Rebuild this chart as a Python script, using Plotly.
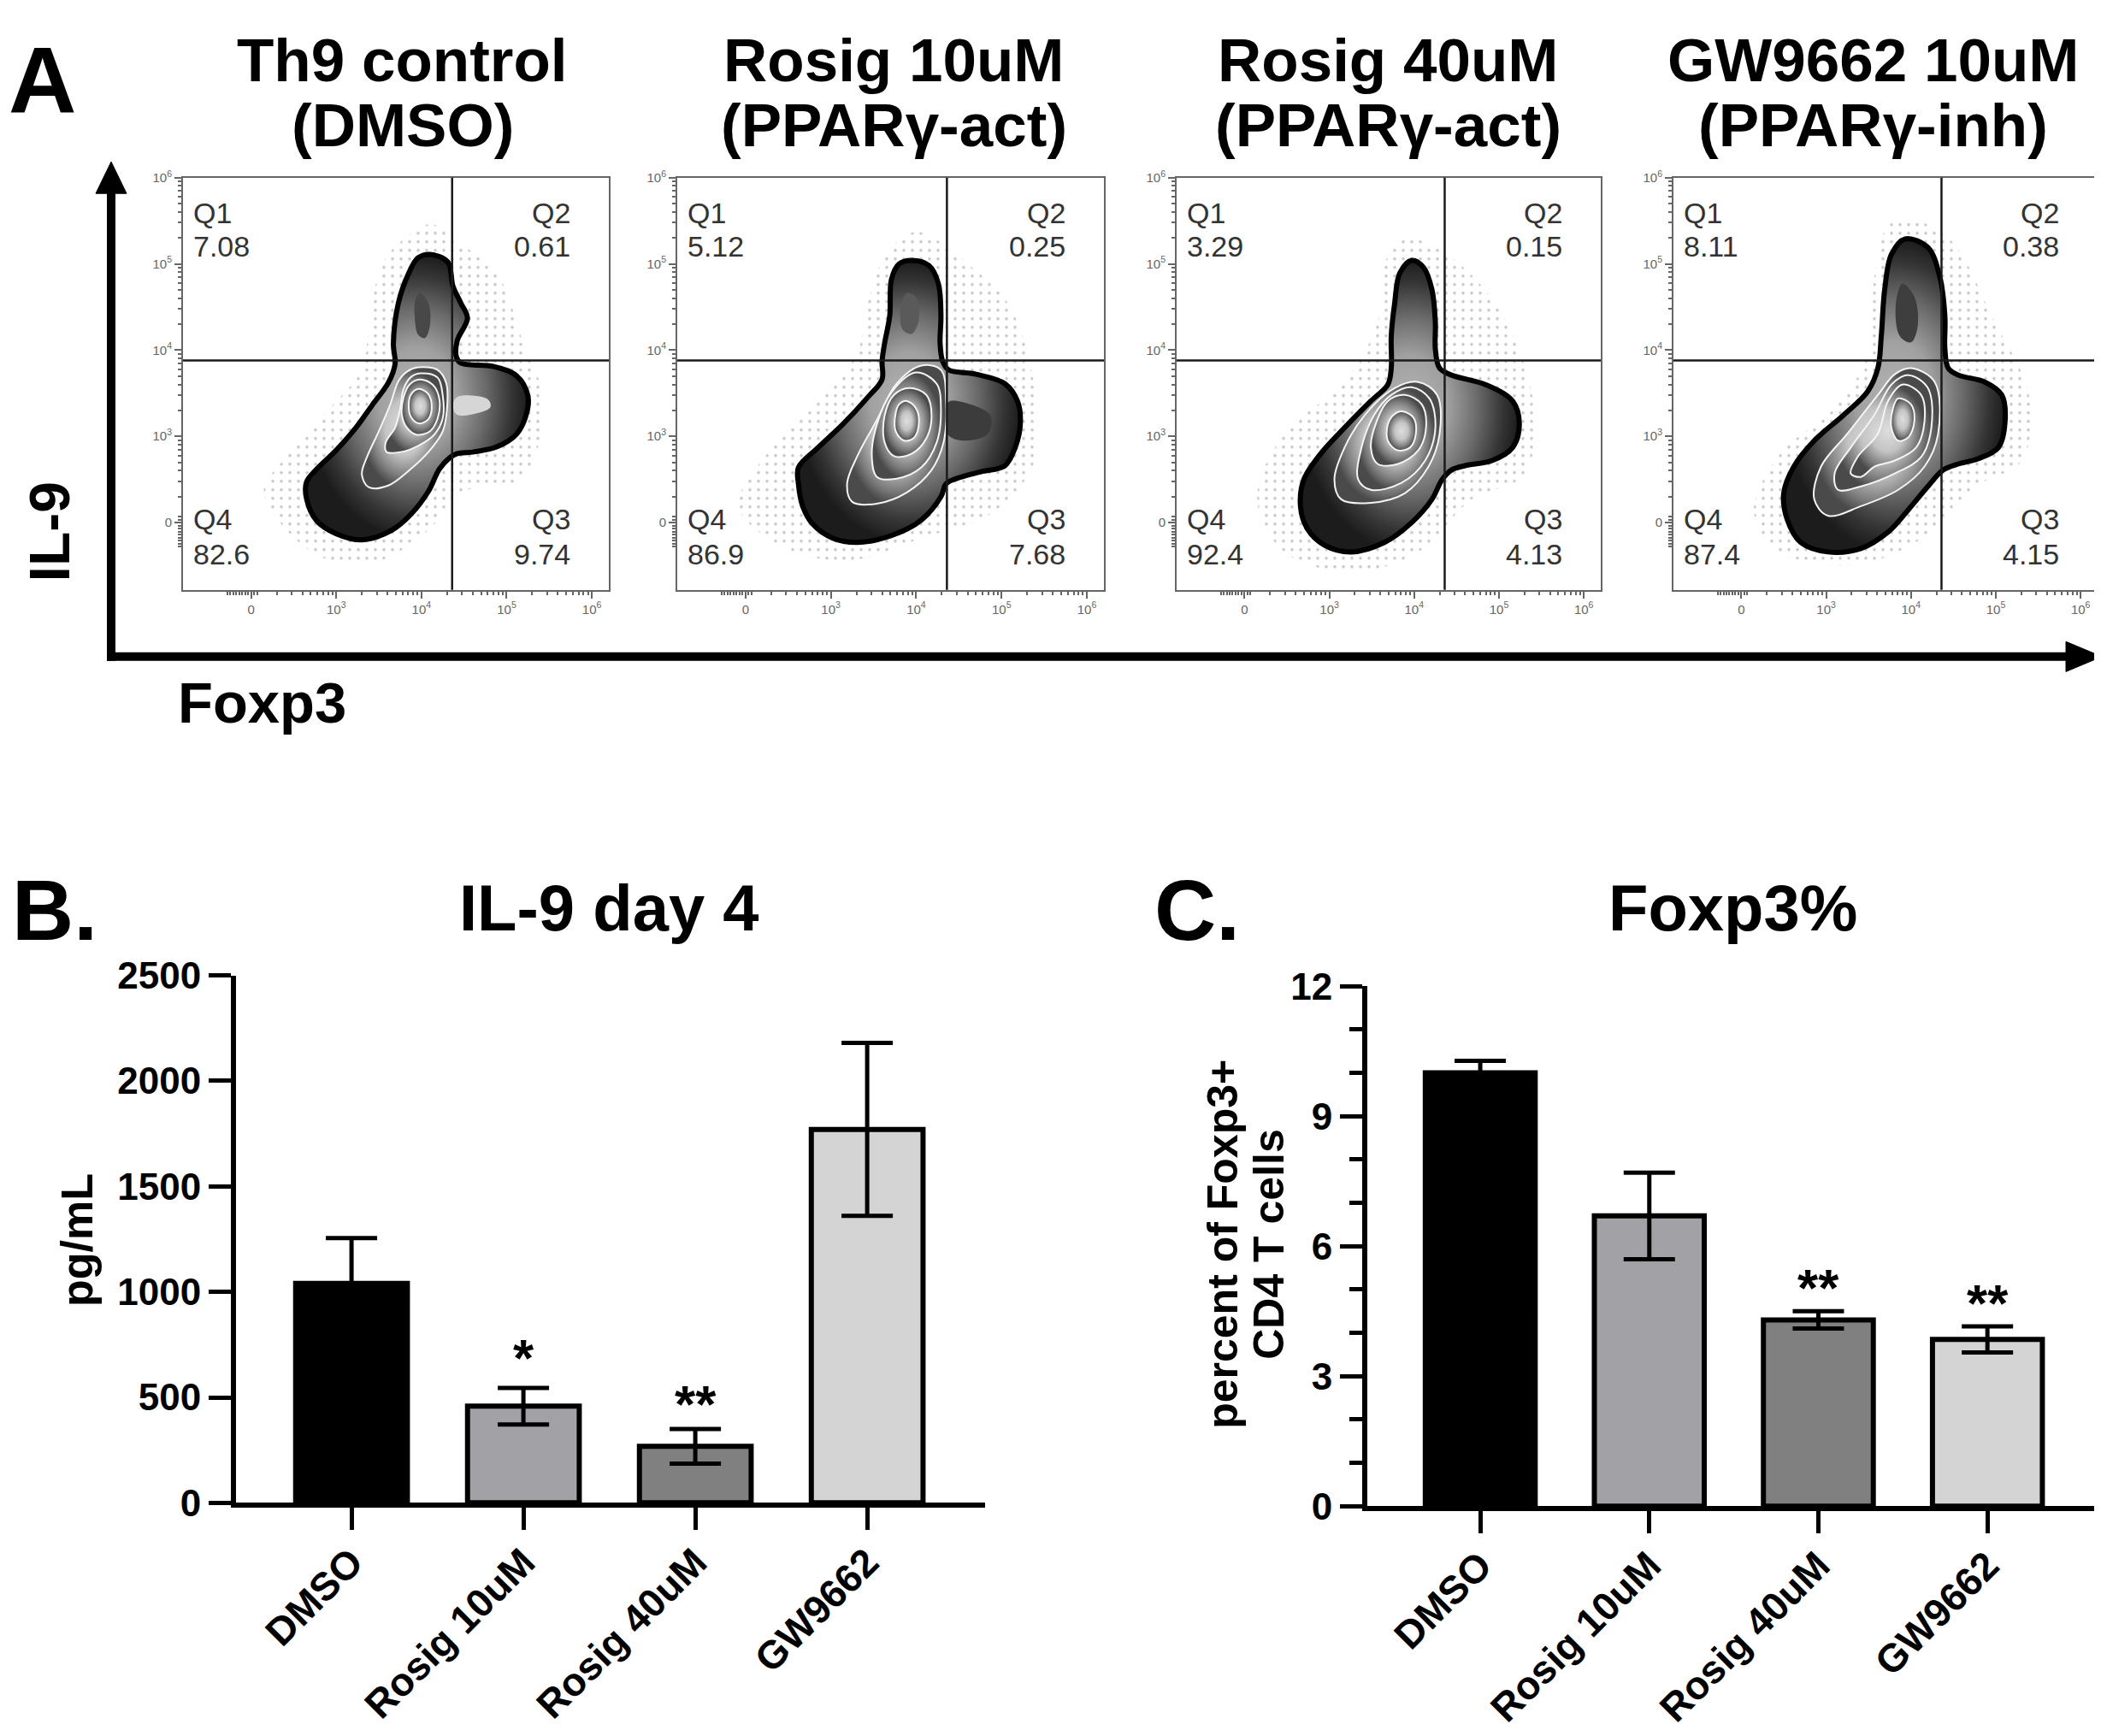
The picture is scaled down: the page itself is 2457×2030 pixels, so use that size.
import numpy as np
import plotly.graph_objects as go

W, H = 2457, 2030
FONT = "Liberation Sans, Arial, sans-serif"

# ---------------- panel A : flow plots (axis units: 2 = "0", 3 = 10^3 ... 6 = 10^6) ----------------
flow_titles = [("Th9 control", "(DMSO)"), ("Rosig 10uM", "(PPARγ-act)"),
               ("Rosig 40uM", "(PPARγ-act)"), ("GW9662 10uM", "(PPARγ-inh)")]
# Q1, Q2, Q3, Q4
quad_pcts = [["7.08", "0.61", "9.74", "82.6"],
             ["5.12", "0.25", "7.68", "86.9"],
             ["3.29", "0.15", "4.13", "92.4"],
             ["8.11", "0.38", "4.15", "87.4"]]
gate_x = 4.36
gate_y = 3.88
flow_tickpos = [2, 3, 4, 5, 6]
flow_ticktext = ["0", "10<sup>3</sup>", "10<sup>4</sup>", "10<sup>5</sup>", "10<sup>6</sup>"]

# DMSO
dmso_halo_x = [4.12, 4.42, 4.89, 5.20, 5.43, 5.39, 5.12, 4.46, 4.08, 3.38, 2.73, 2.15, 2.38, 2.92, 3.30, 3.38, 3.54, 3.85]
dmso_halo_y = [5.46, 5.26, 4.88, 4.07, 3.47, 2.95, 2.47, 2.35, 1.91, 1.52, 1.65, 2.35, 2.73, 3.32, 3.77, 4.21, 5.00, 5.33]
dmso_outer_x = [4.10, 4.31, 4.37, 4.46, 4.54, 4.42, 4.41, 4.46, 4.85, 5.12, 5.25, 5.23, 5.12, 4.89, 4.62, 4.42, 4.33, 4.21,
                4.08, 3.88, 3.65, 3.31, 3.00, 2.77, 2.65, 2.65, 2.77, 3.00, 3.23, 3.42, 3.61, 3.69, 3.67, 3.73, 3.85, 3.96]
dmso_outer_y = [5.11, 5.02, 4.74, 4.55, 4.37, 4.11, 3.92, 3.85, 3.81, 3.70, 3.47, 3.25, 3.03, 2.88, 2.82, 2.80, 2.75, 2.62,
                2.36, 2.10, 1.91, 1.80, 1.87, 2.02, 2.28, 2.47, 2.62, 2.84, 3.10, 3.36, 3.62, 3.84, 4.07, 4.55, 4.89, 5.07]
dmso_c4_x = [3.96, 4.19, 4.29, 4.30, 4.25, 4.10, 3.85, 3.61, 3.38, 3.30, 3.36, 3.50, 3.63, 3.73, 3.83]
dmso_c4_y = [3.80, 3.77, 3.62, 3.32, 3.06, 2.84, 2.60, 2.43, 2.41, 2.56, 2.76, 3.06, 3.36, 3.64, 3.75]
dmso_c3_x = [4.00, 4.19, 4.25, 4.25, 4.15, 3.96, 3.77, 3.59, 3.58, 3.69, 3.75, 3.79, 3.88]
dmso_c3_y = [3.73, 3.68, 3.47, 3.21, 3.02, 2.89, 2.82, 2.82, 2.93, 3.10, 3.32, 3.55, 3.69]
dmso_c2_x = [3.98, 4.13, 4.21, 4.19, 4.10, 3.94, 3.83, 3.77, 3.79, 3.86]
dmso_c2_y = [3.66, 3.60, 3.43, 3.21, 3.06, 3.02, 3.10, 3.25, 3.45, 3.60]
dmso_c1_x = [3.97, 4.08, 4.12, 4.08, 3.97, 3.88, 3.85, 3.88]
dmso_c1_y = [3.55, 3.49, 3.34, 3.20, 3.15, 3.22, 3.36, 3.49]
dmso_spot1_x = [3.98, 4.08, 4.10, 4.04, 3.96, 3.92, 3.93]
dmso_spot1_y = [4.66, 4.55, 4.29, 4.14, 4.18, 4.40, 4.59]
dmso_spot2_x = [4.41, 4.62, 4.79, 4.81, 4.66, 4.42, 4.37]
dmso_spot2_y = [3.45, 3.47, 3.42, 3.34, 3.27, 3.25, 3.34]

# Rosig 10uM
r10_halo_x = [4.00, 4.70, 5.10, 5.39, 5.39, 4.93, 4.06, 3.19, 2.44, 1.92, 2.27, 2.85, 3.31, 3.45, 3.66]
r10_halo_y = [5.37, 4.92, 4.50, 3.56, 2.72, 2.14, 1.82, 1.56, 1.72, 2.19, 2.82, 3.40, 3.98, 4.61, 5.13]
r10_outer_x = [3.95, 4.15, 4.26, 4.29, 4.28, 4.31, 4.38, 4.70, 5.04, 5.19, 5.22, 5.16, 5.04, 4.76, 4.47, 4.35, 4.29,
               4.06, 3.71, 3.31, 3.02, 2.79, 2.67, 2.62, 2.62, 2.85, 3.14, 3.43, 3.60, 3.60, 3.63, 3.69, 3.71, 3.80]
r10_outer_y = [5.04, 4.98, 4.77, 4.40, 4.08, 3.87, 3.77, 3.72, 3.61, 3.40, 3.14, 2.87, 2.66, 2.59, 2.51, 2.45, 2.30,
               2.03, 1.85, 1.77, 1.82, 1.98, 2.19, 2.45, 2.64, 2.87, 3.14, 3.45, 3.66, 3.87, 4.08, 4.40, 4.82, 5.00]
r10_c4_x = [4.06, 4.29, 4.35, 4.32, 4.18, 3.89, 3.54, 3.25, 3.19, 3.31, 3.54, 3.77]
r10_c4_y = [3.82, 3.77, 3.40, 2.93, 2.61, 2.35, 2.22, 2.24, 2.45, 2.77, 3.19, 3.61]
r10_c3_x = [4.00, 4.24, 4.29, 4.24, 4.06, 3.77, 3.54, 3.48, 3.54, 3.71]
r10_c3_y = [3.74, 3.61, 3.30, 2.93, 2.64, 2.51, 2.53, 2.77, 3.14, 3.51]
r10_c2_x = [3.92, 4.12, 4.18, 4.12, 3.95, 3.74, 3.63, 3.63, 3.74]
r10_c2_y = [3.56, 3.48, 3.24, 2.98, 2.80, 2.77, 2.93, 3.24, 3.48]
r10_c1_x = [3.89, 4.00, 4.03, 3.97, 3.86, 3.76, 3.76, 3.80]
r10_c1_y = [3.41, 3.32, 3.14, 2.98, 2.95, 3.06, 3.27, 3.37]
r10_spot1_x = [3.89, 4.00, 4.03, 3.95, 3.84, 3.82]
r10_spot1_y = [4.66, 4.61, 4.35, 4.19, 4.24, 4.50]
r10_spot2_x = [4.38, 4.64, 4.87, 4.84, 4.58, 4.38, 4.35]
r10_spot2_y = [3.40, 3.37, 3.24, 3.03, 2.95, 3.01, 3.22]

# Rosig 40uM
r40_halo_x = [3.89, 4.44, 5.00, 5.39, 5.31, 4.68, 4.05, 3.26, 2.47, 2.15, 2.47, 3.18, 3.57, 3.65]
r40_halo_y = [5.30, 5.07, 4.47, 3.48, 2.57, 2.27, 1.66, 1.43, 1.66, 2.27, 3.03, 3.63, 4.32, 5.00]
r40_outer_x = [3.97, 4.11, 4.21, 4.25, 4.25, 4.30, 4.44, 4.84, 5.16, 5.24, 5.16, 4.92, 4.60, 4.44, 4.33, 4.21,
               3.97, 3.65, 3.26, 2.94, 2.74, 2.66, 2.70, 2.90, 3.18, 3.49, 3.69, 3.73, 3.73, 3.77, 3.83]
r40_outer_y = [5.04, 4.96, 4.70, 4.32, 4.01, 3.79, 3.71, 3.60, 3.41, 3.14, 2.87, 2.72, 2.66, 2.61, 2.50, 2.27,
               2.00, 1.77, 1.66, 1.74, 1.93, 2.19, 2.50, 2.80, 3.10, 3.41, 3.60, 3.79, 4.16, 4.54, 4.89]
r40_c4_x = [4.05, 4.27, 4.30, 4.17, 3.89, 3.49, 3.14, 3.06, 3.18, 3.42, 3.77]
r40_c4_y = [3.63, 3.48, 3.03, 2.65, 2.34, 2.23, 2.27, 2.50, 2.87, 3.25, 3.56]
r40_c3_x = [3.97, 4.18, 4.25, 4.13, 3.85, 3.49, 3.34, 3.38, 3.53, 3.73]
r40_c3_y = [3.57, 3.44, 3.10, 2.72, 2.46, 2.38, 2.50, 2.87, 3.25, 3.48]
r40_c2_x = [3.89, 4.09, 4.14, 4.05, 3.81, 3.57, 3.49, 3.56, 3.69]
r40_c2_y = [3.48, 3.37, 3.10, 2.84, 2.68, 2.68, 2.87, 3.18, 3.41]
r40_c1_x = [3.85, 3.99, 4.02, 3.95, 3.80, 3.69, 3.69, 3.76]
r40_c1_y = [3.29, 3.22, 3.03, 2.87, 2.84, 2.95, 3.14, 3.25]

# GW9662 10uM
gw_halo_x = [3.89, 4.44, 4.99, 5.39, 5.31, 4.76, 4.12, 3.33, 2.46, 2.15, 2.46, 3.10, 3.49, 3.57, 3.69]
gw_halo_y = [5.53, 5.30, 4.32, 3.48, 2.72, 2.42, 1.81, 1.51, 1.66, 2.12, 2.80, 3.33, 3.94, 4.85, 5.38]
gw_outer_x = [3.93, 4.20, 4.34, 4.40, 4.40, 4.44, 4.56, 4.87, 5.07, 5.11, 5.03, 4.79, 4.56, 4.38, 4.20,
              3.97, 3.73, 3.41, 3.02, 2.70, 2.54, 2.50, 2.62, 2.86, 3.21, 3.49, 3.61, 3.65, 3.69, 3.77]
gw_outer_y = [5.29, 5.19, 4.85, 4.39, 4.01, 3.79, 3.71, 3.63, 3.48, 3.18, 2.87, 2.74, 2.68, 2.61, 2.42,
              2.15, 1.89, 1.70, 1.66, 1.77, 2.04, 2.34, 2.65, 2.95, 3.25, 3.52, 3.79, 4.16, 4.70, 5.11]
gw_c4_x = [4.00, 4.28, 4.32, 4.16, 3.85, 3.41, 3.02, 2.86, 2.94, 3.25, 3.61, 3.81]
gw_c4_y = [3.79, 3.63, 3.03, 2.65, 2.38, 2.19, 2.08, 2.27, 2.65, 3.03, 3.48, 3.72]
gw_c3_x = [3.97, 4.20, 4.24, 4.12, 3.81, 3.41, 3.14, 3.10, 3.29, 3.57, 3.77]
gw_c3_y = [3.71, 3.56, 3.10, 2.76, 2.57, 2.42, 2.38, 2.57, 2.87, 3.25, 3.60]
gw_c2_x = [3.90, 4.12, 4.16, 4.06, 3.81, 3.57, 3.41, 3.29, 3.37, 3.61, 3.73]
gw_c2_y = [3.60, 3.48, 3.18, 2.87, 2.72, 2.65, 2.53, 2.57, 2.76, 3.03, 3.41]
gw_c1_x = [3.85, 4.00, 4.04, 3.97, 3.85, 3.77, 3.79]
gw_c1_y = [3.44, 3.37, 3.18, 2.99, 2.95, 3.10, 3.33]
gw_spot1_x = [3.90, 4.04, 4.08, 4.00, 3.87, 3.82]
gw_spot1_y = [4.77, 4.62, 4.28, 4.09, 4.16, 4.51]

flow_panels = [
    dict(halo=(dmso_halo_x, dmso_halo_y), outer=(dmso_outer_x, dmso_outer_y),
         spots=[(dmso_spot1_x, dmso_spot1_y, "#484848"), (dmso_spot2_x, dmso_spot2_y, "#d6d6d6")],
         levels=[(dmso_c4_x, dmso_c4_y), (dmso_c3_x, dmso_c3_y), (dmso_c2_x, dmso_c2_y), (dmso_c1_x, dmso_c1_y)]),
    dict(halo=(r10_halo_x, r10_halo_y), outer=(r10_outer_x, r10_outer_y),
         spots=[(r10_spot1_x, r10_spot1_y, "#5a5a5a"), (r10_spot2_x, r10_spot2_y, "#3c3c3c")],
         levels=[(r10_c4_x, r10_c4_y), (r10_c3_x, r10_c3_y), (r10_c2_x, r10_c2_y), (r10_c1_x, r10_c1_y)]),
    dict(halo=(r40_halo_x, r40_halo_y), outer=(r40_outer_x, r40_outer_y),
         spots=[],
         levels=[(r40_c4_x, r40_c4_y), (r40_c3_x, r40_c3_y), (r40_c2_x, r40_c2_y), (r40_c1_x, r40_c1_y)]),
    dict(halo=(gw_halo_x, gw_halo_y), outer=(gw_outer_x, gw_outer_y),
         spots=[(gw_spot1_x, gw_spot1_y, "#3e3e3e")],
         levels=[(gw_c4_x, gw_c4_y), (gw_c3_x, gw_c3_y), (gw_c2_x, gw_c2_y), (gw_c1_x, gw_c1_y)]),
]
outer_scale = [[0, "#b4b4b4"], [0.35, "#a0a0a0"], [0.62, "#6a6a6a"], [0.85, "#353535"], [1, "#1c1c1c"]]
level_scale = [[0, "#dedede"], [0.45, "#c4c4c4"], [0.8, "#7c7c7c"], [1, "#4a4a4a"]]

# ---------------- panels B and C : bar charts ----------------
groups = ["DMSO", "Rosig 10uM", "Rosig 40uM", "GW9662"]
bar_colors = ["#000000", "#a2a2a6", "#808080", "#d4d4d4"]
il9_mean = [1040, 458, 268, 1770]
il9_sem = [215, 87, 82, 410]
il9_stars = ["", "*", "**", ""]
il9_star_y = [0, 740, 522, 0]
foxp3_mean = [10.0, 6.7, 4.3, 3.85]
foxp3_sem = [0.28, 1.0, 0.2, 0.3]
foxp3_stars = ["", "", "**", "**"]
foxp3_star_y = [0, 0, 5.3, 4.95]


def px(x):
    return x / W


def py(y):
    return 1 - y / H


flow_frames_x = [(206, 704), (784, 1283), (1368, 1864), (1949, 2445)]
flow_frame_y = (179, 673)
title_cx = [463, 1037, 1615, 2182]

fig = go.Figure()
layout = {}
annotations = []
shapes = []

minor_vals = list(np.arange(1.72, 2.10, 0.035))
for d in [2, 3, 4, 5]:
    minor_vals += [d + np.log10(k) for k in range(2, 10)]

for i, panel in enumerate(flow_panels):
    n = i + 1
    xa, ya = ("x", "y") if n == 1 else (f"x{n}", f"y{n}")
    xk, yk = ("xaxis", "yaxis") if n == 1 else (f"xaxis{n}", f"yaxis{n}")

    def poly(xs, ys, lc, lw, **kw):
        fig.add_trace(go.Scatter(
            x=list(xs) + [xs[0]], y=list(ys) + [ys[0]], mode="lines", fill="toself",
            line=dict(color=lc, width=lw, shape="spline", smoothing=1.0),
            hoverinfo="skip", xaxis=xa, yaxis=ya, **kw))

    hx, hy = panel["halo"]
    poly(hx, hy, "rgba(0,0,0,0)", 0, fillcolor="rgba(0,0,0,0)",
         fillpattern=dict(shape=".", fgcolor="#8a8a8a", bgcolor="rgba(0,0,0,0)", size=10, solidity=0.1))
    ox, oy = panel["outer"]
    poly(ox, oy, "black", 6, fillgradient=dict(type="radial", colorscale=outer_scale))
    for sx, sy, sc in panel["spots"]:
        poly(sx, sy, sc, 0, fillcolor=sc)
    for cx, cy in panel["levels"]:
        poly(cx, cy, "#f4f4f4", 2, fillgradient=dict(type="radial", colorscale=level_scale))

    x0, x1 = flow_frames_x[i]
    common = dict(showline=True, mirror=True, linecolor="#666", linewidth=2, showgrid=False, zeroline=False,
                  ticks="outside", ticklen=8, tickwidth=2, tickcolor="#666",
                  tickvals=flow_tickpos, ticktext=flow_ticktext,
                  tickfont=dict(family=FONT, size=15, color="#666"),
                  minor=dict(tickvals=minor_vals, ticks="outside", ticklen=4, tickwidth=1.5, tickcolor="#666"))
    layout[xk] = dict(common, domain=[px(x0), px(x1)], range=[1.2, 6.2], anchor=ya)
    layout[yk] = dict(common, domain=[py(flow_frame_y[1]), py(flow_frame_y[0])], range=[1.22, 6.0], anchor=xa)

    # quadrant gate
    shapes.append(dict(type="line", xref=xa, yref=f"{ya} domain", x0=gate_x, x1=gate_x, y0=0, y1=1,
                       line=dict(color="#1a1a1a", width=2.5), layer="above"))
    shapes.append(dict(type="line", xref=f"{xa} domain", yref=ya, x0=0, x1=1, y0=gate_y, y1=gate_y,
                       line=dict(color="#1a1a1a", width=2.5), layer="above"))

    q1, q2, q3, q4 = quad_pcts[i]
    qfont = dict(family=FONT, size=34, color="#333")
    for txt, xx, yy, anc in [("Q1", 0.02, 0.915, "left"), (q1, 0.02, 0.834, "left"),
                             ("Q2", 0.914, 0.915, "right"), (q2, 0.914, 0.834, "right"),
                             ("Q4", 0.02, 0.172, "left"), (q4, 0.02, 0.087, "left"),
                             ("Q3", 0.914, 0.172, "right"), (q3, 0.914, 0.087, "right")]:
        annotations.append(dict(text=txt, xref=f"{xa} domain", yref=f"{ya} domain", x=xx, y=yy,
                                xanchor=anc, yanchor="middle", showarrow=False, font=qfont))

    t1, t2 = flow_titles[i]
    tfont = dict(family=FONT, size=71, color="black", weight="bold")
    annotations.append(dict(text=t1, xref="paper", yref="paper", x=px(title_cx[i]), y=py(38),
                            xanchor="center", yanchor="middle", showarrow=False, font=tfont))
    annotations.append(dict(text=t2, xref="paper", yref="paper", x=px(title_cx[i]), y=py(116),
                            xanchor="center", yanchor="middle", showarrow=False, font=tfont))

# bars
bar_axes = [("x5", "y5", il9_mean, il9_sem), ("x6", "y6", foxp3_mean, foxp3_sem)]
for xa, ya, mean, sem in bar_axes:
    fig.add_trace(go.Bar(
        x=list(range(len(groups))), y=mean, width=0.65,
        marker=dict(color=bar_colors, line=dict(color="black", width=6)),
        error_y=dict(type="data", array=sem, color="black", thickness=5, width=30),
        hoverinfo="skip", xaxis=xa, yaxis=ya))

num_font = dict(family=FONT, size=44, color="black", weight="bold")
cat_font = dict(family=FONT, size=46, color="black", weight="bold")
bar_x_common = dict(tickvals=list(range(len(groups))), ticktext=groups, tickangle=-45, ticks="outside",
                    ticklen=26, tickwidth=5, tickcolor="black", showline=True, linewidth=6, linecolor="black",
                    showgrid=False, zeroline=False, tickfont=cat_font, ticklabelstandoff=-8)
bar_y_common = dict(ticks="outside", ticklen=26, tickwidth=5, tickcolor="black", showline=True, linewidth=6,
                    linecolor="black", showgrid=False, zeroline=False, tickfont=num_font)
layout["xaxis5"] = dict(bar_x_common, domain=[px(268), px(1144)], range=[-0.672, 3.686], anchor="y5")
layout["yaxis5"] = dict(bar_y_common, domain=[py(1767), py(1135)], range=[0, 2500],
                        tickvals=[0, 500, 1000, 1500, 2000, 2500], anchor="x5")
layout["xaxis6"] = dict(bar_x_common, domain=[px(1591), px(2451)], range=[-0.668, 3.682], anchor="y6")
layout["yaxis6"] = dict(bar_y_common, domain=[py(1771), py(1148)], range=[0, 12],
                        tickvals=[0, 3, 6, 9, 12], anchor="x6",
                        minor=dict(dtick=1, ticks="outside", ticklen=15, tickwidth=5, tickcolor="black"))

star_font = dict(family=FONT, size=62, color="black", weight="bold")
for xa, ya, stars, sy in [("x5", "y5", il9_stars, il9_star_y), ("x6", "y6", foxp3_stars, foxp3_star_y)]:
    for k, (s, yv) in enumerate(zip(stars, sy)):
        if s:
            annotations.append(dict(text=s, xref=xa, yref=ya, x=k, y=yv, yshift=-13, showarrow=False,
                                    xanchor="center", yanchor="middle", font=star_font))

# panel letters, axis labels and titles
def label(text, x, y, size, anchor="center", angle=0):
    annotations.append(dict(text=text, xref="paper", yref="paper", x=px(x), y=py(y), xanchor=anchor,
                            yanchor="middle", showarrow=False, textangle=angle,
                            font=dict(family=FONT, size=size, color="black", weight="bold")))

label("A", 0, 61, 110, "left")
label("IL-9", 50, 604, 66, angle=-90)
label("Foxp3", 198, 808, 67, "left")
label("B.", 4, 1057, 100, "left")
label("IL-9 day 4", 704, 1054, 76)
label("pg/mL", 82, 1452, 52, angle=-90)
label("C.", 1340, 1057, 100, "left")
label("Foxp3%", 2018, 1054, 76)
label("percent of Foxp3+", 1422, 1457, 50, angle=-90)
label("CD4 T cells", 1476, 1457, 50, angle=-90)

# big axis arrows of panel A
shapes += [
    dict(type="line", xref="paper", yref="paper", x0=px(122), x1=px(122), y0=py(758), y1=py(192),
         line=dict(color="black", width=10)),
    dict(type="path", xref="paper", yref="paper",
         path=f"M {px(104)},{py(198)} L {px(122)},{py(160)} L {px(140)},{py(198)} Z",
         fillcolor="black", line=dict(color="black", width=1)),
    dict(type="line", xref="paper", yref="paper", x0=px(117), x1=px(2412), y0=py(753), y1=py(753),
         line=dict(color="black", width=10)),
    dict(type="path", xref="paper", yref="paper",
         path=f"M {px(2408)},{py(735)} L {px(2450)},{py(753)} L {px(2408)},{py(771)} Z",
         fillcolor="black", line=dict(color="black", width=1)),
]

fig.update_layout(**layout)
fig.update_layout(width=W, height=H, margin=dict(l=0, r=0, t=0, b=0), showlegend=False,
                  plot_bgcolor="white", paper_bgcolor="white", annotations=annotations, shapes=shapes,
                  font=dict(family=FONT))
fig.write_html("out.html")
